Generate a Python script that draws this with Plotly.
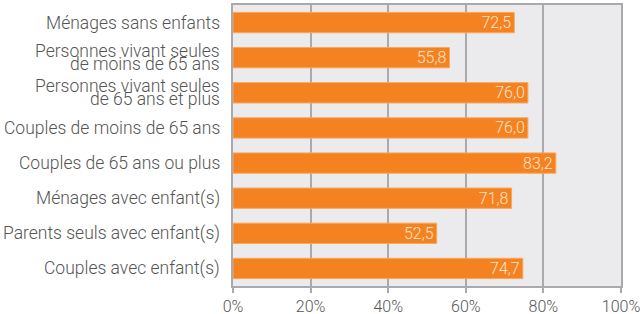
import plotly.graph_objects as go

categories = [
    "Ménages sans enfants",
    "Personnes vivant seules<br>de moins de 65 ans",
    "Personnes vivant seules<br>de 65 ans et plus",
    "Couples de moins de 65 ans",
    "Couples de 65 ans ou plus",
    "Ménages avec enfant(s)",
    "Parents seuls avec enfant(s)",
    "Couples avec enfant(s)",
]
values = [72.5, 55.8, 76.0, 76.0, 83.2, 71.8, 52.5, 74.7]
tick_vals = [0, 20, 40, 60, 80, 100]
tick_text = ["0%", "20%", "40%", "60%", "80%", "100%"]

font_family = "Roboto"
text_color = "#555555"
grid_color = "#A9A9AE"

fig = go.Figure(go.Bar(
    y=categories,
    x=values,
    orientation="h",
    width=0.58,
    marker=dict(color="#F58220", line=dict(color="#F7A860", width=1)),
    texttemplate="%{x:.1f}",
    textposition="inside",
    insidetextanchor="end",
    constraintext="none",
    textfont=dict(family=font_family, size=16, weight=300, color="rgba(253,228,205,1)"),
    cliponaxis=False,
))

# Category labels as annotations (tight line spacing, right aligned)
line_gap = 13
annotations = []
for cat in categories:
    lines = cat.split("<br>")
    n = len(lines)
    for i, ln in enumerate(lines):
        shift = ((n - 1) / 2 - i) * line_gap
        annotations.append(dict(
            x=0, xref="paper", y=cat, yref="y",
            text=ln, showarrow=False,
            xanchor="right", yanchor="middle",
            xshift=-11, yshift=shift,
            font=dict(family=font_family, size=17.5, weight=300, color=text_color),
        ))

fig.update_layout(
    width=644, height=314,
    margin=dict(l=233, r=23, t=5, b=28),
    paper_bgcolor="white",
    plot_bgcolor="#EBEBEE",
    separators=", ",
    showlegend=False,
    font=dict(family=font_family, weight=300, color=text_color, size=16),
    annotations=annotations,
)
fig.update_xaxes(
    range=[0, 100], automargin=False,
    tickvals=tick_vals, ticktext=tick_text,
    showgrid=True, gridcolor=grid_color, gridwidth=1.5,
    showline=True, linecolor=grid_color, linewidth=1.5, mirror=True,
    ticks="outside", ticklen=5, tickcolor=grid_color, tickwidth=1.5,
    zeroline=False,
    tickfont=dict(family=font_family, size=16, weight=300, color=text_color),
)
fig.update_yaxes(
    categoryorder="array", categoryarray=categories,
    autorange="reversed", automargin=False,
    showgrid=False, showticklabels=False,
    showline=True, linecolor=grid_color, linewidth=1.5, mirror=True,
    ticks="",
)

fig.write_html(
    "out.html",
    config={"displayModeBar": False},
    post_script="document.body.style.margin='0';",
)
